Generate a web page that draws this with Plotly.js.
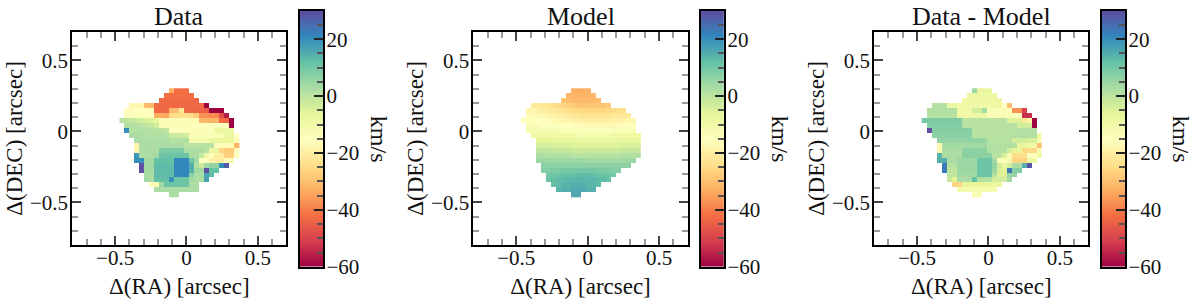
<!DOCTYPE html>
<html>
<head>
<meta charset="utf-8">
<script src="https://cdn.plot.ly/plotly-3.0.1.min.js"></script>
<style>html,body{margin:0;padding:0;background:#fff}#c{width:1200px;height:300px}</style>
</head>
<body>
<div id="c"></div>
<script>
const panelTitles = ["Data", "Model", "Data - Model"];
const xTitle = "Δ(RA) [arcsec]";
const yTitle = "Δ(DEC) [arcsec]";
const unitLabel = "km/s";
const spectral = ["#9e0142","#d53e4f","#f46d43","#fdae61","#fee08b","#ffffbf","#e6f598","#abdda4","#66c2a5","#3288bd","#5e4fa2"];
const velMin = -60, velMax = 30;
const colorbarLevels = [-60,-58,-56,-54,-52,-50,-48,-46,-44,-42,-40,-38,-36,-34,-32,-30,-28,-26,-24,-22,-20,-18,-16,-14,-12,-10,-8,-6,-4,-2,0,2,4,6,8,10,12,14,16,18,20,22,24,26,28,30];

const dataStart = [10,9,8,2,1,1,0,1,1,2,3,3,3,3,3,4,4,5,5,6,7,10];
const dataRows = [
[-33,-42,-42,-42],
[-42,-42,-42,-42,-42,-42],
[-43,-43,-43,-43,-43,-43,-43,-43],
[-17,-17,-18,-30,-31,-43,-43,-43,-43,-43,-43,-43,-43,-43,-43,-60],
[-16,-16,-15,-15,-15,-16,-43,-43,-43,-31,-30,-22,-43,-43,-44,-44,-45,-60,-60,-60],
[-14,-14,-14,-13,-14,-15,-33,-33,-34,-25,-24,-24,-24,-25,-28,-37,-37,-38,-38,-48,-56],
[1,0,-1,-2,-3,-4,-5,-7,-16,-16,-16,-16,-16,-16,-16,-16,-31,-31,-32,-32,-42,-43,-60],
[2,2,2,1,0,-1,-3,-13,-13,-13,-13,-13,-13,-14,-14,-14,-14,-14,-14,-14,-14,-60],
[20,2,2,2,2,1,1,1,0,-14,-14,-14,-14,-14,-14,-14,-14,-14,-8,-8,-8,-8],
[3,3,3,2,2,2,2,2,-2,-2,-2,-3,-13,-13,-13,-13,-13,-13,-13,-8,-8,-15],
[3,3,3,3,3,3,3,2,2,2,2,-11,-11,-11,-11,-7,-7,-7,-7,-7,-16],
[-18,3,3,3,3,3,3,3,3,3,1,1,1,1,1,1,-16,-16,-16,-16,-32],
[-18,3,3,3,3,9,9,9,9,9,3,3,3,3,1,-8,-8,-26,-28,-28,-15],
[19,3,3,3,4,11,11,11,11,11,11,3,3,-1,-10,-15,-20,-20,-27,-27,-15],
[20,20,4,4,12,12,12,12,21,21,21,11,4,-14,-14,-19,-20,-20,-13,-13],
[30,4,4,13,13,13,13,21,21,21,15,2,-2,4,6,6,20,28],
[30,4,4,13,13,13,13,21,21,21,15,4,4,30,12,12],
[3,3,13,13,13,13,21,21,21,7,3,3,17,13],
[4,3,12,12,12,20,11,11,11,4,3,3,17],
[-16,-16,4,11,11,11,11,11,3,3],
[3,3,3,3,3,3,3,3,3],
[3,3]
];

const modelStart = [10,9,8,2,1,1,0,1,1,2,3,3,3,3,3,4,4,5,5,6,7,10];
const modelRows = [
[-33,-33,-33,-32],
[-31,-32,-32,-32,-32,-31],
[-29,-30,-31,-31,-31,-31,-31,-30],
[-21,-21,-22,-23,-24,-25,-26,-27,-28,-29,-29,-29,-29,-29,-29,-28],
[-18,-18,-19,-20,-21,-21,-22,-23,-24,-25,-25,-26,-26,-26,-26,-26,-25,-25,-24,-24],
[-16,-16,-17,-17,-18,-19,-20,-20,-21,-22,-22,-23,-23,-23,-23,-23,-23,-22,-22,-21,-21],
[-14,-14,-15,-15,-16,-16,-17,-17,-18,-18,-19,-19,-20,-20,-20,-20,-20,-20,-19,-19,-19,-18,-18],
[-13,-13,-13,-14,-14,-14,-15,-15,-15,-16,-16,-16,-17,-17,-17,-17,-17,-17,-16,-16,-16,-15],
[-11,-11,-11,-12,-12,-12,-12,-13,-13,-13,-13,-14,-14,-14,-14,-14,-14,-13,-13,-13,-13,-12],
[-9,-9,-9,-9,-9,-10,-10,-10,-10,-11,-11,-11,-11,-11,-11,-11,-10,-10,-10,-10,-9,-9],
[-6,-6,-6,-6,-7,-7,-7,-7,-7,-8,-8,-8,-8,-8,-8,-8,-8,-7,-7,-7,-6],
[-3,-3,-3,-4,-4,-4,-4,-5,-5,-5,-5,-5,-5,-5,-5,-5,-5,-4,-4,-4,-4],
[0,0,0,-1,-1,-1,-1,-2,-2,-2,-2,-2,-2,-2,-2,-2,-2,-1,-1,-1,-1],
[3,3,2,2,2,2,2,1,1,1,1,1,1,1,1,1,1,2,2,2,2],
[5,5,5,5,5,5,5,5,5,5,4,4,4,4,4,4,4,4,5,5],
[7,7,7,7,7,7,7,7,7,7,7,7,7,7,7,7,7,7],
[8,8,9,9,10,10,10,10,10,10,10,9,9,9,8,8],
[10,11,11,12,12,12,13,13,13,12,12,11,11,10],
[11,12,13,13,14,14,14,14,14,14,13,13,12],
[12,13,14,14,15,15,15,14,14,13],
[14,15,15,16,16,16,15,15],
[16,16]
];

const residStart = [10,9,8,2,1,1,0,1,1,2,3,3,3,3,3,4,4,5,5,6,7,10];
const residRows = [
[5,-7,-7,-7],
[-8,-8,-8,-8,-8,-8],
[-9,-9,-9,-9,-9,-9,-9,-9],
[2,2,2,-8,-8,-10,-10,-10,-10,-10,-10,-10,-10,-10,-15,-30],
[2,2,2,2,2,2,-10,-10,-10,-3,-3,4,-13,-13,-13,-13,-15,-37,-37,-50],
[1,1,1,1,1,1,-10,-10,-10,-9,-9,-9,-13,-13,-13,-13,-13,-14,-14,-53,-53],
[10,9,9,9,9,9,9,9,1,1,1,1,1,1,1,1,1,-5,-5,-5,-22,-18,-60],
[8,8,8,8,8,8,8,1,1,1,1,1,1,1,1,1,1,1,-3,-3,-3,-60],
[30,8,8,8,8,8,8,8,8,1,1,1,1,1,1,1,1,1,2,2,2,2],
[7,7,7,7,7,7,7,7,1,1,1,1,1,1,1,1,2,2,2,2,2,-10],
[6,6,6,6,6,6,6,6,6,6,1,1,1,1,1,-3,-3,-3,-4,-4,-12],
[-17,4,4,4,4,4,4,4,4,4,2,2,2,2,2,2,-7,-7,-9,-9,-30],
[-17,3,3,3,3,7,7,7,7,7,2,2,2,2,-3,-7,-7,-25,-25,-25,-12],
[14,3,3,3,3,7,7,7,7,7,7,1,1,-4,-12,-24,-24,-24,-14,-14,-10],
[15,15,3,3,5,5,5,5,11,11,11,4,-13,-13,-11,-26,-26,-26,-9,-9],
[23,1,1,5,5,5,5,11,11,11,6,-3,-8,-3,3,3,15,29],
[23,0,0,5,5,5,5,11,11,11,5,-4,-6,24,8,8],
[0,0,4,4,4,4,11,11,11,1,-5,-5,6,6],
[-1,-6,3,3,3,12,2,2,2,-3,-3,-3,4],
[-26,-26,-6,-6,-6,-6,-6,-6,-8,-8],
[-11,-11,-11,-11,-11,-11,-11,-11],
[-12,-12]
];

const W = 1200, H = 300;
const panels = [
  {l:72.3,  r:286.3,  cl:299.5,  cr:323.2, gridX0:-0.4520},
  {l:473.4, r:687.6,  cl:700.8,  cr:724.3, gridX0:-0.4505},
  {l:874.2, r:1088.4, cl:1101.6, cr:1125.2, gridX0:-0.4500}
];
const frameTop = 32, frameBottom = 245, cbTop = 10.7, cbBottom = 266.8;
const fontFam = '"Liberation Serif", "Times New Roman", serif';
const tickFont = {family: fontFam, size: 21, color: '#111'};
const colorscale = spectral.map((c,i)=>[i/(spectral.length-1), c]);

function toGrid(starts, rows){
  const nCols = 24;
  return rows.map((r,j)=>{
    const row = new Array(nCols).fill(null);
    r.forEach((v,i)=>{ row[starts[j]+i] = v; });
    return row;
  });
}
const grids = [toGrid(dataStart,dataRows), toGrid(modelStart,modelRows), toGrid(residStart,residRows)];

const traces = [], layout = {
  width:W, height:H, autosize:false, showlegend:false, hovermode:false,
  margin:{l:0,r:0,t:0,b:0}, paper_bgcolor:'#fff', plot_bgcolor:'#fff',
  font:{family:fontFam, size:21, color:'#111'}, annotations:[]
};

panels.forEach((p,i)=>{
  const sfx = i===0 ? '' : String(i+1);
  const cx = String(i+4);
  traces.push({
    type:'heatmap', z:grids[i], x0:p.gridX0, dx:0.035, y0:0.2860, dy:-0.035,
    colorscale, zmin:velMin, zmax:velMax, zsmooth:false, hoverongaps:false, showscale:false,
    xaxis:'x'+sfx, yaxis:'y'+sfx
  });
  traces.push({
    type:'heatmap', z:colorbarLevels.map(v=>[v,v]), x:[0,1], y:colorbarLevels,
    colorscale, zmin:velMin, zmax:velMax, zsmooth:'best', showscale:false,
    xaxis:'x'+cx, yaxis:'y'+cx
  });

  const axCommon = {
    range:[-0.8,0.7], showgrid:false, zeroline:false,
    showline:true, linewidth:2, linecolor:'#000', mirror:'allticks',
    ticks:'inside', ticklen:9, tickwidth:2, tickcolor:'#444',
    dtick:0.5, tick0:0, tickfont:tickFont,
    minor:{ticks:'inside', ticklen:6, tickwidth:2, tickcolor:'#999', dtick:0.1, tick0:0, showgrid:false}
  };
  layout['xaxis'+sfx] = Object.assign({}, axCommon, {
    domain:[p.l/W, p.r/W], anchor:'y'+sfx, ticklabelstandoff:-7,
    title:{text:xTitle, font:{family:fontFam,size:23,color:'#111'}, standoff:9}
  });
  layout['yaxis'+sfx] = Object.assign({}, axCommon, {
    domain:[1-frameBottom/H, 1-frameTop/H], anchor:'x'+sfx, ticklabelstandoff:-2,
    title:{text:yTitle, font:{family:fontFam,size:23,color:'#111'}, standoff:1}
  });
  layout['xaxis'+cx] = {
    domain:[p.cl/W, p.cr/W], anchor:'y'+cx, range:[0,1], showgrid:false, zeroline:false,
    showline:true, linewidth:2, linecolor:'#000', mirror:true, ticks:'', showticklabels:false
  };
  layout['yaxis'+cx] = {
    domain:[1-cbBottom/H, 1-cbTop/H], anchor:'x'+cx, side:'right', range:[velMin,velMax],
    showgrid:false, zeroline:false, showline:true, linewidth:2, linecolor:'#000', mirror:true,
    ticks:'inside', ticklen:9, tickwidth:2, tickcolor:'#222', dtick:20, tick0:0, tickfont:tickFont,
    ticklabelstandoff:-3,
    minor:{ticks:'inside', ticklen:6, tickwidth:2, tickcolor:'#555', dtick:5, tick0:0, showgrid:false}
  };
  layout.annotations.push({
    text:panelTitles[i], xref:'paper', yref:'paper', showarrow:false,
    x:(p.l+p.r)/2/W, y:1-17/H, xanchor:'center', yanchor:'middle',
    font:{family:fontFam,size:26,color:'#111'}
  });
  layout.annotations.push({
    text:unitLabel, xref:'paper', yref:'paper', showarrow:false, textangle:90,
    x:(p.cr+56)/W, y:1-139/H, xanchor:'center', yanchor:'middle',
    font:{family:fontFam,size:24,color:'#111'}
  });
});

Plotly.newPlot('c', traces, layout, {displayModeBar:false});
</script>
</body>
</html>
